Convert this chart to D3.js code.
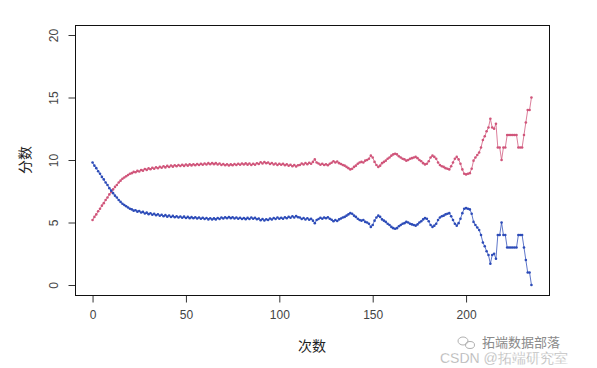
<!DOCTYPE html>
<html><head><meta charset="utf-8">
<script src="https://cdn.jsdelivr.net/npm/d3@7"></script>
<style>body{margin:0;background:#fff}svg{display:block}</style>
</head><body>
<svg id="c" width="597" height="368"></svg>
<script>
// ---- data ----
const xStart = 0;
const redScores = [
5.2,5.45,5.65,5.9,6.1,6.35,6.55,6.8,7.0,7.25,7.45,7.65,7.85,8.0,8.2,8.35,8.5,8.6,8.7,8.8,8.9,
8.95,9.05,9.02,9.13,9.08,9.2,9.15,9.28,9.21,9.33,9.26,9.38,9.3,9.42,9.34,9.46,9.38,9.5,9.41,9.53,
9.44,9.56,9.47,9.58,9.5,9.6,9.52,9.62,9.53,9.64,9.55,9.65,9.57,9.66,9.58,9.68,9.6,9.7,9.62,9.72,
9.64,9.75,9.66,9.76,9.67,9.75,9.64,9.72,9.6,9.68,9.58,9.66,9.56,9.65,9.58,9.68,9.6,9.7,9.62,9.72,
9.64,9.73,9.63,9.72,9.6,9.7,9.62,9.74,9.68,9.82,9.72,9.84,9.74,9.8,9.68,9.76,9.64,9.72,9.6,9.7,
9.62,9.7,9.58,9.66,9.54,9.62,9.5,9.6,9.48,9.58,9.6,9.72,9.64,9.76,9.66,9.78,9.7,9.85,10.05,9.8,
9.72,9.62,9.7,9.6,9.66,9.58,9.7,9.78,9.9,9.8,
9.88,9.75,9.68,9.6,9.55,9.45,9.35,9.25,9.3,9.45,9.55,9.7,9.8,9.85,9.8,9.95,10.0,10.1,10.35,10.2,
9.85,9.6,9.45,9.55,9.75,9.85,9.95,10.1,10.2,10.35,10.45,10.5,10.45,10.3,10.2,10.1,10.05,9.95,10.0,10.1,
10.15,10.2,10.25,10.15,10.0,9.9,9.75,9.65,9.7,9.9,10.2,10.35,10.25,10.1,9.8,9.6,9.5,9.45,9.35,9.3,
9.25,9.5,9.8,10.1,10.25,
10.05,9.7,9.25,8.9,8.85,8.9,8.95,9.3,9.95,10.2,10.4,10.6,11.0,11.6,11.9,12.3,12.6,13.3,12.6,12.5,12.9,
11,11,10,11,11,12,12,12,12,12,12,11,11,11,12,13,14,14,15
];
const blueScores = [
9.8,9.55,9.35,9.1,8.9,8.65,8.45,8.2,8.0,7.75,7.55,7.35,7.15,7.0,6.8,6.65,6.5,6.4,6.3,6.2,6.1,
6.05,5.95,5.98,5.87,5.92,5.8,5.85,5.72,5.79,5.67,5.74,5.62,5.7,5.58,5.66,5.54,5.62,5.5,5.59,5.47,
5.56,5.44,5.53,5.42,5.5,5.4,5.48,5.38,5.47,5.36,5.45,5.35,5.43,5.34,5.42,5.32,5.4,5.3,5.38,5.28,
5.36,5.25,5.34,5.24,5.33,5.25,5.36,5.28,5.4,5.32,5.42,5.34,5.44,5.35,5.42,5.32,5.4,5.3,5.38,5.28,
5.36,5.27,5.37,5.28,5.4,5.3,5.38,5.26,5.32,5.18,5.28,5.16,5.26,5.2,5.32,5.24,5.36,5.28,5.4,5.3,
5.38,5.3,5.42,5.34,5.46,5.38,5.5,5.4,5.52,5.42,5.4,5.28,5.36,5.24,5.34,5.22,5.3,5.15,4.95,5.2,
5.28,5.38,5.3,5.4,5.34,5.42,5.3,5.22,5.1,5.2,
5.12,5.25,5.32,5.4,5.45,5.55,5.65,5.75,5.7,5.55,5.45,5.3,5.2,5.15,5.2,5.05,5.0,4.9,4.65,4.8,
5.15,5.4,5.55,5.45,5.25,5.15,5.05,4.9,4.8,4.65,4.55,4.5,4.55,4.7,4.8,4.9,4.95,5.05,5.0,4.9,
4.85,4.8,4.75,4.85,5.0,5.1,5.25,5.35,5.3,5.1,4.8,4.65,4.75,4.9,5.2,5.4,5.5,5.55,5.65,5.7,
5.75,5.5,5.2,4.9,4.75,
4.95,5.3,5.75,6.1,6.15,6.1,6.05,5.7,5.05,4.8,4.6,4.4,4.0,3.4,3.1,2.7,2.4,1.7,2.4,2.5,2.1,
4,4,5,4,4,3,3,3,3,3,3,4,4,4,3,2,1,1,0
];
const xTicks = [0, 50, 100, 150, 200];
const yTicks = [0, 5, 10, 15, 20];
const xTitle = "次数";
const yTitle = "分数";
const wm1 = "拓端数据部落";
const wm2 = "CSDN @拓端研究室";

// ---- layout ----
const svg = d3.select("#c");
const L = 75, R = 549, T = 25, B = 295;
const n = redScores.length;
const xs = d3.range(n).map(i => xStart + i);
const xr = [xStart, xStart + n - 1], ext = (xr[1]-xr[0])*0.04;
const x = d3.scaleLinear().domain([xr[0]-ext, xr[1]+ext]).range([L, R]);
const y = d3.scaleLinear().domain([-0.8, 20.8]).range([B, T]);
const font = "'Liberation Sans', Arial, sans-serif";
const cjk = "'Noto Sans CJK SC', sans-serif";

// axes
const gx = svg.append("g").attr("transform", `translate(0,${B+0.5})`)
  .call(d3.axisBottom(x).tickValues(xTicks).tickSize(7).tickPadding(8).tickSizeOuter(0));
const gy = svg.append("g").attr("transform", `translate(${L+0.5},0)`)
  .call(d3.axisLeft(y).tickValues(yTicks).tickSize(7).tickSizeOuter(0));
[gx, gy].forEach(g => {
  g.select(".domain").remove();
  g.selectAll("line").attr("stroke", "#333");
  g.selectAll("text").attr("font-family", font).attr("font-size", 12).attr("fill", "#444");
});
gy.selectAll(".tick text")
  .attr("x", 0).attr("dy", 0).attr("y", 4)
  .attr("text-anchor", "middle")
  .attr("transform", "translate(-22,0) rotate(-90)");

// y axis line (between first and last ticks) and box
svg.append("line").attr("x1", L+0.5).attr("x2", L+0.5).attr("y1", y(0)).attr("y2", y(20)).attr("stroke", "#666");
svg.append("rect").attr("x", L+0.5).attr("y", T+0.5).attr("width", R-L).attr("height", B-T)
  .attr("fill", "none").attr("stroke", "#111").attr("stroke-width", 1);

// series
const series = [
  {vals: redScores, color: "#d0557a"},
  {vals: blueScores, color: "#2c4bb8"}
];
const line = d3.line().x(d => x(d[0])).y(d => y(d[1]));
series.forEach(s => {
  const pts = xs.map((xv, i) => [xv, s.vals[i]]);
  svg.append("path").attr("d", line(pts)).attr("fill", "none")
    .attr("stroke", s.color).attr("stroke-width", 0.9).attr("opacity", 0.85);
  svg.append("g").selectAll("circle").data(pts).join("circle")
    .attr("cx", d => x(d[0])).attr("cy", d => y(d[1])).attr("r", 1.3)
    .attr("fill", s.color);
});

// titles
svg.append("text").attr("x", (L+R)/2).attr("y", 351).attr("text-anchor", "middle")
  .attr("font-family", cjk).attr("font-size", 14).attr("fill", "#222").text(xTitle);
svg.append("text").attr("transform", `translate(30,${(T+B)/2}) rotate(-90)`).attr("text-anchor", "middle")
  .attr("font-family", cjk).attr("font-size", 14).attr("fill", "#222").text(yTitle);

// watermark
const wg = svg.append("g").attr("fill", "none").attr("stroke", "#b0b0b0").attr("stroke-width", 1);
wg.append("ellipse").attr("cx", 463).attr("cy", 341).attr("rx", 5).attr("ry", 4);
wg.append("ellipse").attr("cx", 470).attr("cy", 345).attr("rx", 4.5).attr("ry", 3.5);
svg.append("text").attr("x", 482).attr("y", 347).attr("font-family", cjk).attr("font-size", 13)
  .attr("fill", "#8a8a8a").text(wm1);
svg.append("text").attr("x", 440).attr("y", 363).attr("font-family", font).attr("font-size", 14)
  .attr("fill", "#a8a8a8").attr("stroke", "#fff").attr("stroke-width", 0.3).text(wm2);
</script>
</body></html>
